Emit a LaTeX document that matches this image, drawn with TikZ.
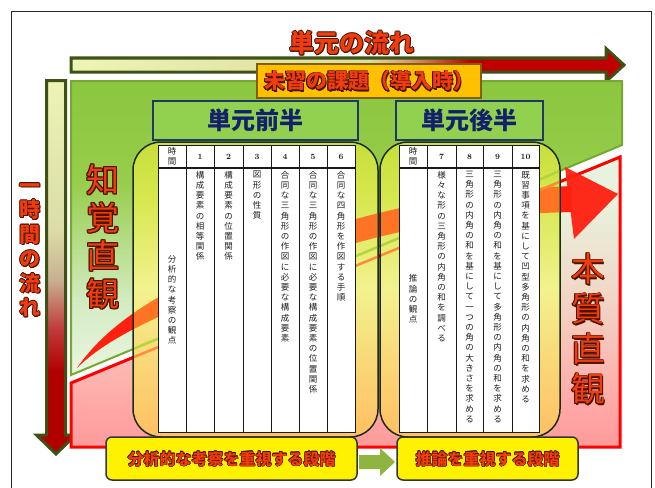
\documentclass[tikz,border=0pt]{standalone}
\usepackage{fontspec}
\newfontfamily\jp{Noto Sans CJK JP}
\definecolor{tred}{HTML}{F03C0F}
\definecolor{olc}{HTML}{4A1200}
\definecolor{navy}{HTML}{13206B}
\definecolor{arrowdark}{HTML}{3D5214}
\definecolor{ha1}{HTML}{EEF3B6}
\definecolor{ha2}{HTML}{DCDCA0}
\definecolor{ha3}{HTML}{D49070}
\definecolor{ha4}{HTML}{C00000}
\definecolor{va1}{HTML}{EEF3B6}
\definecolor{va5}{HTML}{DCDCA8}
\definecolor{va2}{HTML}{C8B090}
\definecolor{va3}{HTML}{C03838}
\definecolor{va4}{HTML}{B00000}
\definecolor{g0}{HTML}{8CC63F}
\definecolor{g1}{HTML}{96CD4A}
\definecolor{g2}{HTML}{D2EBC0}
\definecolor{g3}{HTML}{EAF6E2}
\definecolor{gborder}{HTML}{76A832}
\definecolor{p0}{HTML}{FF9A9A}
\definecolor{p1}{HTML}{FFAAA8}
\definecolor{p2}{HTML}{F2D4C4}
\definecolor{p3}{HTML}{E8F2DC}
\definecolor{p4}{HTML}{E6F4E0}
\definecolor{r0}{HTML}{FFC062}
\definecolor{r1}{HTML}{F9D878}
\definecolor{r2}{HTML}{F2F28E}
\definecolor{r3}{HTML}{D8E850}
\definecolor{r4}{HTML}{C6DF3A}
\definecolor{bandred}{HTML}{FF2010}
\definecolor{bandorange}{HTML}{FF7424}
\definecolor{glight}{HTML}{B5D33A}
\definecolor{olight}{HTML}{FF8A3A}
\definecolor{obfill}{HTML}{FFC000}
\definecolor{obdraw}{HTML}{7F6000}
\definecolor{bluefill}{HTML}{92D050}
\definecolor{blueborder}{HTML}{1F3864}
\definecolor{rectborder}{HTML}{1E2A18}
\definecolor{garrow}{HTML}{8FB440}
\definecolor{bodytext}{HTML}{202020}
\pgfdeclarehorizontalshading{harrow}{100bp}{color(0bp)=(ha1); color(25bp)=(ha1); color(52bp)=(ha2); color(56bp)=(ha3); color(61bp)=(ha4); color(100bp)=(ha4)}
\pgfdeclareverticalshading{varrow}{100bp}{color(0bp)=(va4); color(36bp)=(va4); color(41.6bp)=(va3); color(48.3bp)=(va2); color(55bp)=(va5); color(75bp)=(va1); color(100bp)=(va1)}
\pgfdeclareverticalshading{gshade}{100bp}{color(0bp)=(g3); color(25bp)=(g3); color(38bp)=(g2); color(58bp)=(g1); color(75bp)=(g0); color(100bp)=(g0)}
\pgfdeclareverticalshading{pshade}{100bp}{color(0bp)=(p0); color(25bp)=(p0); color(33bp)=(p1); color(50bp)=(p2); color(67bp)=(p3); color(75bp)=(p4); color(100bp)=(p4)}
\pgfdeclareverticalshading{rshade}{100bp}{color(0bp)=(r0); color(25bp)=(r0); color(38bp)=(r1); color(50bp)=(r2); color(65bp)=(r3); color(75bp)=(r4); color(100bp)=(r4)}
\makeatletter
\newcommand\vt[1]{\vbox{\baselineskip=10.2pt\lineskiplimit=-20pt\@tfor\vch:=#1\do{\hbox to 9pt{\hss\vch\hss}}}}
\makeatother
\newcommand\otext[5][0.7]{%
  \foreach \ox/\oy [count=\oi] in {-1/0,1/0,0/-1,0/1,0.7/0.7,-0.7/-0.7,0.7/-0.7,-0.7/0.7,1.5/1.5}{%
    \node[#4,text=olc] (#2-o\oi) at ([shift={({#1*\ox},{#1*\oy})}]#3) {#5};}%
  \node[#4] (#2) at (#3) {#5};}
\newcommand\bandpath{(77,368) .. controls (110,320) and (170,285) .. (260,250) .. controls (380,205) and (480,190) .. (572,186) -- (572,212) .. controls (480,214) and (380,228) .. (260,275) .. controls (170,310) and (110,335) .. (77,368) -- cycle}
\begin{document}
\begin{tikzpicture}[x=1pt,y=-1pt,
  big/.style={font=\jp\bfseries\fontsize{#1}{#1}\selectfont, text=tred, inner sep=0pt},
  vbig/.style={font=\jp\fontsize{#1}{#1}\selectfont, text=tred, inner sep=0pt, align=center},
  hdr/.style={font=\jp\fontsize{8.5}{9.5}\selectfont, align=center, inner sep=0pt, text=bodytext},
  num/.style={font=\bfseries\fontsize{8}{9}\selectfont, inner sep=0pt, text=bodytext},
  vtx/.style={font=\jp\fontsize{8.5}{10}\selectfont, inner sep=0pt, anchor=north, text=bodytext},
  vtc/.style={font=\jp\fontsize{8.5}{10}\selectfont, inner sep=0pt, text=bodytext},
  tbl/.style={draw=black!90, line width=1pt, fill=white},
  bluebox/.style={draw=blueborder, line width=1.8pt, fill=bluefill, minimum height=39pt, inner sep=0pt,
     font=\jp\bfseries\fontsize{24}{24}\selectfont, text=navy},
  stagebox/.style={draw=black!80, line width=1.5pt, fill=yellow, rounded corners=6pt, minimum height=43pt, inner sep=0pt}
]
\useasboundingbox (0,0) rectangle (655,487);
\clip (0,0) rectangle (655,487);
\fill[white] (0,0) rectangle (655,487);
\draw[line width=1pt, black!85] (11,12) rectangle (651,495);

% title
\otext{title}{352,43}{big=25}{単元の流れ}

% horizontal arrow
\shadedraw[shading=harrow, draw=arrowdark, line width=3pt, line join=miter]
  (71,58) -- (606,58) -- (606,48.5) -- (624,65) -- (606,81.5) -- (606,72) -- (71,72) -- cycle;

% vertical arrow
\shadedraw[shading=varrow, draw=arrowdark, line width=3pt, line join=miter]
  (46.5,80.5) -- (65.5,80.5) -- (65.5,435) -- (75.5,435) -- (56,454) -- (36.5,435) -- (46.5,435) -- cycle;

% regions
\shadedraw[shading=gshade, draw=gborder, line width=2pt] (71,81) -- (622,81) -- (622,145) -- (71,375) -- cycle;
\shadedraw[shading=pshade, draw=red, line width=3pt] (71,383) -- (620,157) -- (620,447) -- (71,447) -- cycle;

% swoosh band and big arrow
\fill[bandred] \bandpath;
\fill[bandred, opacity=0.95] (565,167) -- (618,194) -- (574,239) -- cycle;

% task box
\node[draw=obdraw, line width=1.2pt, fill=obfill, minimum width=224pt, minimum height=34pt] (taskbox) at (369,81) {};
\otext{task}{369,81}{big=21}{未習の課題（導入時）}

% big vertical words
\otext[0.8]{chikaku}{103,237}{vbig=33, font=\jp\fontsize{33}{38}\selectfont}{知\\覚\\直\\観}
\otext[0.8]{honshitsu}{588,329}{vbig=34, font=\jp\fontsize{34}{40}\selectfont}{本\\質\\直\\観}
\otext{jikan}{30,250}{vbig=21, font=\jp\bfseries\fontsize{21}{24.5}\selectfont}{一\\時\\間\\の\\流\\れ}

% rounded panels
\shadedraw[shading=rshade, draw=rectborder, line width=1.5pt, rounded corners=28pt] (133,142) rectangle (378,437);
\shadedraw[shading=rshade, draw=rectborder, line width=1.5pt, rounded corners=28pt] (380,142) rectangle (560,437);
\begin{scope}
  \clip[rounded corners=27pt] (134,143) rectangle (377,436) (381,143) rectangle (559,436);
  \fill[bandorange] \bandpath;
  \draw[line width=2.5pt, glight] (71,375) -- (622,145);
  \draw[line width=2.5pt, olight] (71,383) -- (620,157);
\end{scope}

% table 1
\draw[tbl] (158,145) rectangle (355,432);
\foreach \x in {186,214,243,271,299,327} \draw[line width=1pt, black!90] (\x,145) -- (\x,432);
\draw[line width=1.8pt, black!90] (158,168) -- (355,168);
\node[hdr] (t1h0) at (172,156.5) {時\\間};
\node[num] (t1h1) at (200,156.5) {1};
\node[num] (t1h2) at (228.5,156.5) {2};
\node[num] (t1h3) at (257,156.5) {3};
\node[num] (t1h4) at (285,156.5) {4};
\node[num] (t1h5) at (313,156.5) {5};
\node[num] (t1h6) at (341,156.5) {6};
\node[vtc] (t1b0) at (172,300) {\vt{分析的な考察の観点}};
\node[vtx] (t1b1) at (200,171) {\vt{構成要素の相等関係}};
\node[vtx] (t1b2) at (228.5,171) {\vt{構成要素の位置関係}};
\node[vtx] (t1b3) at (257,171) {\vt{図形の性質}};
\node[vtx] (t1b4) at (285,171) {\vt{合同な三角形の作図に必要な構成要素}};
\node[vtx] (t1b5) at (313,171) {\vt{合同な三角形の作図に必要な構成要素の位置関係}};
\node[vtx] (t1b6) at (341,171) {\vt{合同な四角形を作図する手順}};

% table 2
\draw[tbl] (399,145) rectangle (539,432);
\foreach \x in {427,456,483,512} \draw[line width=1pt, black!90] (\x,145) -- (\x,432);
\draw[line width=1.8pt, black!90] (399,168) -- (539,168);
\node[hdr] (t2h0) at (413,156.5) {時\\間};
\node[num] (t2h7) at (441.5,156.5) {7};
\node[num] (t2h8) at (469.5,156.5) {8};
\node[num] (t2h9) at (497.5,156.5) {9};
\node[num] (t2h10) at (525.5,156.5) {10};
\node[vtc] (t2b0) at (413,299) {\vt{推論の観点}};
\node[vtx] (t2b7) at (441.5,171) {\vt{様々な形の三角形の内角の和を調べる}};
\node[vtx] (t2b8) at (469.5,171) {\vt{三角形の内角の和を基にして一つの角の大きさを求める}};
\node[vtx] (t2b9) at (497.5,171) {\vt{三角形の内角の和を基にして多角形の内角の和を求める}};
\node[vtx] (t2b10) at (525.5,171) {\vt{既習事項を基にして凹型多角形の内角の和を求める}};

% half headers
\node[bluebox, minimum width=205pt] (zenhan) at (255.5,120.5) {単元前半};
\node[bluebox, minimum width=147pt] (kohan) at (469.5,120.5) {単元後半};

% stage boxes
\node[stagebox, minimum width=251pt] (stage1box) at (231.5,458.5) {};
\node[stagebox, minimum width=181pt] (stage2box) at (487.5,458.5) {};
\otext[0.45]{stage1}{231.5,459}{big=16}{分析的な考察を重視する段階}
\otext[0.45]{stage2}{487.5,459}{big=16}{推論を重視する段階}
\fill[garrow] (359,455) -- (380,455) -- (380,448) -- (395,462) -- (380,476) -- (380,469) -- (359,469) -- cycle;
\end{tikzpicture}
\end{document}
